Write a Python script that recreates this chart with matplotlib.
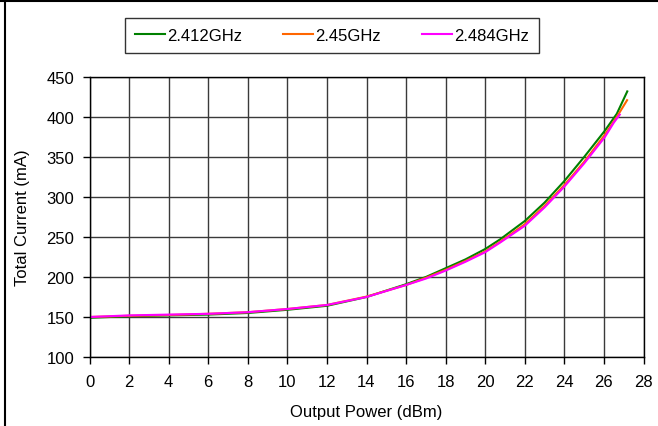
import matplotlib
matplotlib.use("Agg")
import matplotlib.pyplot as plt
from matplotlib.lines import Line2D

plt.rcParams['font.family'] = ['Liberation Sans', 'DejaVu Sans']

x_2412 = [0, 2, 4, 6, 8, 10, 12, 14, 16, 17, 18, 19, 20, 20.75, 22, 23, 24, 25, 26.05, 26.65, 27.18]
y_2412 = [149, 151, 152, 153, 155, 159, 164, 175, 191, 200, 211, 222, 235, 247, 270, 293, 320, 350, 383, 404, 432]

x_245 = [0, 2, 4, 6, 8, 10, 12, 14, 16, 17, 18, 19, 20, 20.75, 22, 23, 24, 25, 26.05, 26.65, 27.17]
y_245 = [150, 151.5, 152.5, 154, 156, 160, 165, 175.5, 190, 199, 209, 220, 232, 244, 266, 289, 315, 344, 378, 400, 421]

x_2484 = [0, 2, 4, 6, 8, 10, 12, 14, 16, 17, 18, 19, 20, 20.75, 22, 23, 24, 25, 26.05, 26.5, 26.8]
y_2484 = [150, 152, 153, 154, 156, 160, 165, 175, 190, 198, 208, 219, 231, 243, 264, 287, 313, 342, 375, 393, 403]

labels = ['2.412GHz', '2.45GHz', '2.484GHz']
colors = ['#008000', '#ff6600', '#ff00ff']
fs = 12

fig = plt.figure(figsize=(6.58, 4.27), dpi=100)
ax = fig.add_axes([89.5/658, 1 - 358/427, (643.5 - 89.5)/658, (358 - 78)/427])

ax.plot(x_2412, y_2412, color=colors[0], lw=1.5, label=labels[0])
ax.plot(x_245, y_245, color=colors[1], lw=1.5, label=labels[1])
ax.plot(x_2484, y_2484, color=colors[2], lw=1.5, label=labels[2])

ax.set_xlim(0, 28)
ax.set_ylim(100, 450)
ax.set_xticks(range(0, 29, 2))
ax.set_yticks(range(100, 451, 50))
ax.grid(True, color='#3a3a3a', lw=1.0)
ax.set_axisbelow(True)
for s in ax.spines.values():
    s.set_color('black')
    s.set_linewidth(1.0)
ax.tick_params(direction='out', length=5, width=1, labelsize=fs, pad=7)
ax.tick_params(axis='y', pad=6)

ax.set_xlabel('Output Power (dBm)', fontsize=fs, labelpad=11)
ax.set_ylabel('Total Current (mA)', fontsize=fs, labelpad=12)

leg = fig.legend(loc='center', bbox_to_anchor=(332/658, 1 - 36.5/427), ncol=3,
                 fontsize=fs, frameon=True, fancybox=False, handlelength=1.8,
                 columnspacing=2.45, handletextpad=0.15, borderpad=0.6)
leg.get_frame().set_edgecolor('black')
leg.get_frame().set_linewidth(1.0)

# outer chart frame (top and left edges visible)
fig.add_artist(Line2D([0, 1], [1 - 1.5/427, 1 - 1.5/427], color='black', lw=1.5, transform=fig.transFigure))
fig.add_artist(Line2D([5/658, 5/658], [0, 1 - 1.5/427], color='black', lw=1.5, transform=fig.transFigure))

fig.savefig('out.png', dpi=100)
